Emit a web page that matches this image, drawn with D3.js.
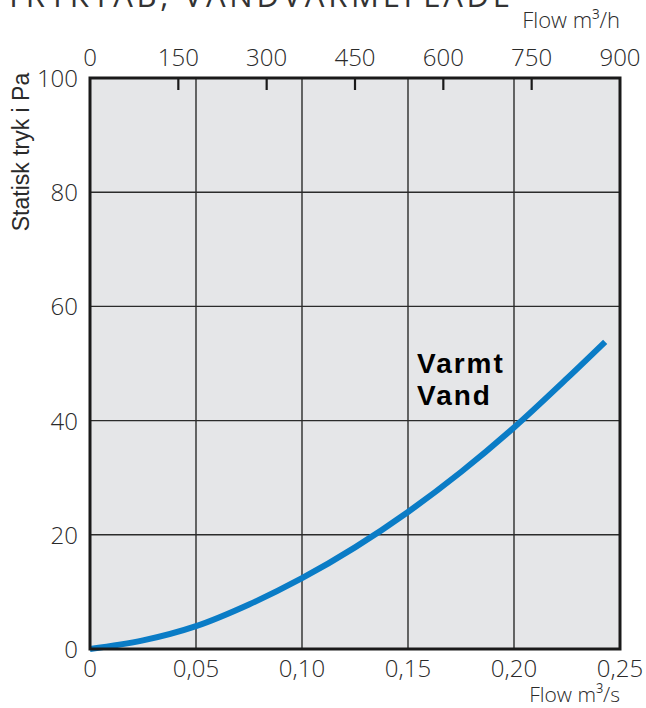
<!DOCTYPE html>
<html>
<head>
<meta charset="utf-8">
<script src="https://cdn.jsdelivr.net/npm/d3@7"></script>
<style>
  html, body { margin: 0; padding: 0; background: #ffffff; }
  svg { display: block; }
</style>
</head>
<body>
<svg id="chart" width="646" height="708"></svg>
<script>
// Pressure drop curve for the hot-water heating coil
const flowM3s = [0, 0.025, 0.05, 0.075, 0.10, 0.125, 0.15, 0.175, 0.20, 0.225, 0.243];
const pressurePa = [0, 1.5, 4.0, 7.8, 12.4, 17.8, 24.0, 31.0, 38.8, 47.4, 53.8];

const bottomTicks = [0, 0.05, 0.10, 0.15, 0.20, 0.25];
const topTicks = [0, 150, 300, 450, 600, 750, 900];
const leftTicks = [0, 20, 40, 60, 80, 100];

const seriesLabel = ["Varmt", "Vand"];
const title = "TRYKTAB, VANDVARMEFLADE";

const svg = d3.select("#chart");
const plotLeft = 90, plotRight = 620, plotTop = 78, plotBottom = 649;

const x = d3.scaleLinear().domain([0, 0.25]).range([plotLeft, plotRight]);
const xTop = d3.scaleLinear().domain([0, 900]).range([plotLeft, plotRight]);
const y = d3.scaleLinear().domain([0, 100]).range([plotBottom, plotTop]);

const labelFont = "'Open Sans', 'DejaVu Sans', sans-serif";
const textColor = "#2a2a2a";

// Title, partially above the page edge
svg.append("text")
  .attr("x", 5).attr("y", 7)
  .attr("font-family", "'Open Sans', 'Liberation Sans', sans-serif")
  .attr("font-size", 31).attr("font-weight", 400)
  .attr("textLength", 505).attr("lengthAdjust", "spacing")
  .attr("fill", "#333")
  .text(title);

// Plot background
svg.append("rect")
  .attr("x", plotLeft).attr("y", plotTop)
  .attr("width", plotRight - plotLeft).attr("height", plotBottom - plotTop)
  .attr("fill", "#e5e6e8");

// Grid
const grid = svg.append("g").attr("stroke", "#2b2b2b").attr("stroke-width", 1.4);
grid.selectAll("line.v").data(bottomTicks.slice(1, -1)).join("line")
  .attr("class", "v")
  .attr("x1", d => x(d)).attr("x2", d => x(d))
  .attr("y1", plotTop).attr("y2", plotBottom);
grid.selectAll("line.h").data(leftTicks.slice(1, -1)).join("line")
  .attr("class", "h")
  .attr("x1", plotLeft).attr("x2", plotRight)
  .attr("y1", d => y(d)).attr("y2", d => y(d));

// Top axis tick marks (m³/h), pointing into the plot
svg.append("g").selectAll("line").data(topTicks.slice(1, -1)).join("line")
  .attr("x1", d => xTop(d)).attr("x2", d => xTop(d))
  .attr("y1", plotTop).attr("y2", plotTop + 12)
  .attr("stroke", "#1a1a1a").attr("stroke-width", 2.2);

// Curve
const line = d3.line()
  .x((d, i) => x(flowM3s[i]))
  .y(d => y(d))
  .curve(d3.curveCatmullRom);
svg.append("path")
  .datum(pressurePa)
  .attr("d", line)
  .attr("fill", "none")
  .attr("stroke", "#0a7cc6")
  .attr("stroke-width", 6)
  .attr("stroke-linecap", "butt");

// Frame
svg.append("rect")
  .attr("x", plotLeft).attr("y", plotTop)
  .attr("width", plotRight - plotLeft).attr("height", plotBottom - plotTop)
  .attr("fill", "none")
  .attr("stroke", "#1a1a1a").attr("stroke-width", 3);

const fmt = d => d === 0 ? "0" : d3.format(".2f")(d).replace(".", ",");

// Bottom tick labels
svg.append("g").selectAll("text").data(bottomTicks).join("text")
  .attr("x", d => x(d)).attr("y", 677)
  .attr("text-anchor", "middle")
  .attr("font-family", labelFont).attr("font-size", 24).attr("font-weight", 300)
  .attr("fill", textColor)
  .text(fmt);

// Top tick labels
svg.append("g").selectAll("text").data(topTicks).join("text")
  .attr("x", d => xTop(d)).attr("y", 66)
  .attr("text-anchor", "middle")
  .attr("font-family", labelFont).attr("font-size", 24).attr("font-weight", 300)
  .attr("fill", textColor)
  .text(d => d);

// Left tick labels
svg.append("g").selectAll("text").data(leftTicks).join("text")
  .attr("x", 78).attr("y", d => y(d) + 9)
  .attr("text-anchor", "end")
  .attr("font-family", labelFont).attr("font-size", 24).attr("font-weight", 300)
  .attr("fill", textColor)
  .text(d => d);

// Axis titles
svg.append("text")
  .attr("x", 620).attr("y", 28)
  .attr("text-anchor", "end")
  .attr("font-family", labelFont).attr("font-size", 22).attr("font-weight", 300)
  .attr("fill", textColor)
  .text("Flow m³/h");

svg.append("text")
  .attr("x", 620).attr("y", 702)
  .attr("text-anchor", "end")
  .attr("font-family", labelFont).attr("font-size", 21).attr("font-weight", 300)
  .attr("fill", textColor)
  .text("Flow m³/s");

svg.append("text")
  .attr("transform", "translate(29,152) rotate(-90)")
  .attr("text-anchor", "middle")
  .attr("font-family", "'Liberation Sans', Arial, sans-serif").attr("font-size", 23)
  .attr("fill", textColor)
  .text("Statisk tryk i Pa");

// Series label
const lbl = svg.append("text")
  .attr("font-family", "'Liberation Sans', Arial, sans-serif")
  .attr("font-size", 28).attr("font-weight", "bold")
  .attr("letter-spacing", 2)
  .attr("fill", "#000");
lbl.selectAll("tspan").data(seriesLabel).join("tspan")
  .attr("x", 417).attr("y", (d, i) => 373 + i * 32)
  .text(d => d);
</script>
</body>
</html>
